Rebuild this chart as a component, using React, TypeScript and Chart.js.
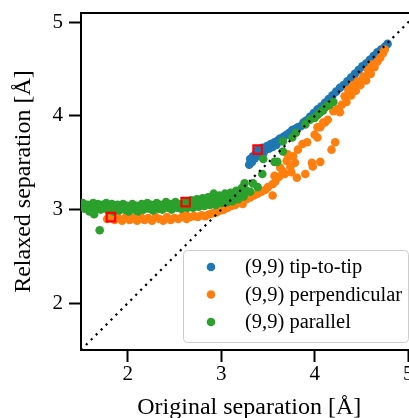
import { useEffect, useRef } from 'react';
import { Chart, registerables } from 'chart.js';

Chart.register(...registerables);

const FONT = "'Liberation Serif', 'Times New Roman', serif";

const xTicks = [2, 3, 4, 5];
const yTicks = [2, 3, 4, 5];
const axisRange = [1.5, 5.1];

const seriesLabels = ['(9,9) tip-to-tip', '(9,9) perpendicular', '(9,9) parallel'];
const seriesColors = ['#1f77b4', '#ff7f0e', '#2ca02c'];

const tipToTip: [number, number][] = [
  [3.30, 3.48], [3.31, 3.54], [3.33, 3.51], [3.34, 3.57], [3.36, 3.55], [3.37, 3.60], [3.39, 3.64],
  [3.40, 3.58], [3.42, 3.62], [3.44, 3.66], [3.45, 3.60], [3.47, 3.64], [3.49, 3.68], [3.51, 3.65],
  [3.53, 3.70], [3.55, 3.67], [3.57, 3.72], [3.59, 3.69], [3.61, 3.74], [3.63, 3.76], [3.65, 3.73],
  [3.67, 3.78], [3.70, 3.80], [3.73, 3.82], [3.76, 3.85], [3.79, 3.86], [3.82, 3.88], [3.85, 3.89],
  [3.88, 3.93], [3.91, 3.95], [3.95, 3.99], [3.99, 4.03], [4.03, 4.07], [4.07, 4.10], [4.11, 4.14],
  [4.15, 4.18], [4.19, 4.22], [4.23, 4.26], [4.27, 4.30], [4.31, 4.33], [4.35, 4.37], [4.39, 4.41],
  [4.43, 4.45], [4.47, 4.49], [4.51, 4.53], [4.55, 4.56], [4.59, 4.60], [4.63, 4.64], [4.67, 4.68],
  [4.71, 4.71], [4.75, 4.74], [4.78, 4.77],
];

const perpendicular: [number, number][] = [
  [1.78, 2.90], [1.82, 2.92], [1.86, 2.89], [1.90, 2.91], [1.94, 2.88], [1.98, 2.92], [2.02, 2.89],
  [2.06, 2.91], [2.10, 2.88], [2.14, 2.92], [2.18, 2.89], [2.22, 2.91], [2.26, 2.88], [2.30, 2.92],
  [2.34, 2.90], [2.38, 2.88], [2.42, 2.92], [2.46, 2.89], [2.50, 2.91], [2.54, 2.90], [2.58, 2.92],
  [2.62, 2.95], [2.63, 2.90], [2.67, 2.92], [2.71, 2.93], [2.75, 2.92], [2.79, 2.94], [2.83, 2.93],
  [2.87, 2.95], [2.91, 2.96], [2.95, 2.97], [2.99, 2.99], [3.03, 3.00], [3.07, 3.02], [3.11, 3.04],
  [3.15, 3.05], [3.19, 3.08], [3.23, 3.06], [3.27, 3.11], [3.31, 3.13], [3.35, 3.15], [3.39, 3.17],
  [3.43, 3.19], [3.47, 3.21], [3.50, 3.24], [3.55, 3.15], [3.55, 3.27], [3.58, 3.30], [3.62, 3.35],
  [3.57, 3.36], [3.63, 3.45], [3.66, 3.41], [3.71, 3.59], [3.74, 3.46], [3.77, 3.57], [3.81, 3.34],
  [3.82, 3.64], [3.87, 3.70], [3.90, 3.38], [3.92, 3.72], [3.97, 3.50], [3.98, 3.46], [4.06, 3.51],
  [4.18, 3.64], [4.22, 3.72], [3.70, 3.52], [3.79, 3.50], [3.68, 3.38], [3.75, 3.40], [4.03, 3.77],
  [4.00, 3.80], [4.06, 3.88], [4.11, 3.93],
  [4.03, 3.88], [4.09, 3.93], [4.14, 3.96], [4.20, 4.05], [4.24, 4.07], [4.27, 4.04], [4.29, 4.12],
  [4.32, 4.21], [4.34, 4.15], [4.36, 4.28], [4.39, 4.22], [4.41, 4.33], [4.44, 4.27], [4.46, 4.37],
  [4.49, 4.33], [4.52, 4.42], [4.55, 4.38], [4.57, 4.49], [4.60, 4.45], [4.61, 4.55], [4.64, 4.52],
  [4.67, 4.58], [4.70, 4.62], [4.73, 4.67], [4.75, 4.71],
];

const parallel: [number, number][] = [
  [1.50, 3.04], [1.52, 3.07], [1.54, 3.01], [1.57, 3.05], [1.59, 2.98], [1.61, 3.03], [1.63, 3.07],
  [1.64, 2.95], [1.66, 3.02], [1.68, 3.06], [1.70, 2.78], [1.71, 3.00], [1.73, 3.05], [1.75, 3.02],
  [1.77, 3.07], [1.79, 2.99], [1.81, 3.03], [1.83, 3.06], [1.85, 2.98], [1.87, 3.02], [1.89, 3.05],
  [1.91, 2.99], [1.93, 3.03], [1.95, 3.06], [1.97, 3.00], [1.99, 3.04], [2.01, 2.98], [2.03, 3.02],
  [2.05, 3.06], [2.07, 3.00], [2.09, 3.04], [2.11, 2.98], [2.13, 3.02], [2.15, 3.06], [2.17, 3.00],
  [2.19, 3.04], [2.21, 3.07], [2.23, 3.01], [2.25, 3.05], [2.27, 2.99], [2.29, 3.03], [2.31, 3.07],
  [2.33, 3.01], [2.35, 3.05], [2.37, 3.00], [2.39, 3.04], [2.41, 3.08], [2.43, 3.02], [2.45, 3.06],
  [2.47, 3.00], [2.49, 3.04], [2.51, 3.08], [2.53, 3.02], [2.55, 3.06], [2.57, 3.01], [2.59, 3.05],
  [2.62, 3.08], [2.64, 3.02], [2.66, 3.06], [2.68, 3.10], [2.70, 3.02], [2.72, 3.07], [2.74, 3.11],
  [2.76, 3.03], [2.78, 3.08], [2.80, 3.12], [2.82, 3.04], [2.84, 3.09], [2.86, 3.13], [2.88, 3.05],
  [2.90, 3.10], [2.92, 3.17], [2.94, 3.05], [2.96, 3.11], [2.98, 3.15], [3.00, 3.07], [3.02, 3.13],
  [3.04, 3.17], [3.06, 3.08], [3.08, 3.14], [3.10, 3.18], [3.12, 3.09], [3.14, 3.16], [3.16, 3.20],
  [3.18, 3.11], [3.20, 3.18], [3.22, 3.23], [3.24, 3.14], [3.25, 3.28], [3.27, 3.20], [3.31, 3.19],
  [3.34, 3.28], [3.39, 3.24], [3.44, 3.38], [3.45, 3.54], [3.57, 3.51], [3.60, 3.51], [3.66, 3.62],
  [3.66, 3.73], [3.76, 3.77], [3.80, 3.82], [3.90, 3.91], [3.95, 3.96], [4.00, 3.98], [4.03, 4.01],
  [4.06, 4.04], [4.09, 4.06], [4.11, 4.09], [4.14, 4.11], [4.16, 4.12], [4.20, 4.15],
];

const highlighted: [number, number][] = [[1.82, 2.92], [2.62, 3.08], [3.39, 3.64]];

const diagonal: [number, number][] = [[1.5, 1.5], [5.1, 5.1]];

const toPts = (arr: [number, number][]) => arr.map(([x, y]) => ({ x, y }));

const framePlugin = {
  id: 'frameAndLegend',
  afterDatasetsDraw(chart: any) {
    const { ctx, chartArea: a } = chart;
    ctx.save();
    ctx.strokeStyle = '#000';
    ctx.lineWidth = 2;
    ctx.beginPath();
    ctx.moveTo(a.left, a.top);
    ctx.lineTo(a.right, a.top);
    ctx.lineTo(a.right, a.bottom);
    ctx.stroke();

    // legend box (lower right)
    const w = 225;
    const h = 92;
    const right = a.right - 9.5;
    const bottom = a.bottom - 8;
    const left = right - w;
    const top = bottom - h;
    ctx.beginPath();
    ctx.roundRect(left + 0.5, top + 0.5, w, h, 4);
    ctx.fillStyle = 'rgba(255,255,255,0.8)';
    ctx.fill();
    ctx.strokeStyle = '#cccccc';
    ctx.lineWidth = 1;
    ctx.stroke();

    ctx.font = `20.5px ${FONT}`;
    ctx.textBaseline = 'middle';
    ctx.textAlign = 'left';
    seriesLabels.forEach((label, i) => {
      const cy = top + 17 + i * 27.5;
      ctx.beginPath();
      ctx.arc(left + 28, cy, 4.3, 0, Math.PI * 2);
      ctx.fillStyle = seriesColors[i];
      ctx.fill();
      ctx.fillStyle = '#000';
      ctx.fillText(label, left + 62, cy + 1);
    });
    ctx.restore();
  },
};

export default function App() {
  const ref = useRef<HTMLCanvasElement>(null);
  useEffect(() => {
    if (!ref.current) return;
    const pointDs = (label: string, data: [number, number][], color: string, order: number) => ({
      label,
      data: toPts(data),
      backgroundColor: color,
      borderWidth: 0,
      pointRadius: 4.3,
      pointHoverRadius: 4.3,
      order,
    });
    const chart = new Chart(ref.current, {
      type: 'scatter',
      data: {
        datasets: [
          {
            label: 'highlighted',
            data: toPts(highlighted),
            pointStyle: 'rect',
            pointRadius: 6,
            backgroundColor: 'rgba(0,0,0,0)',
            borderColor: '#ff0000',
            borderWidth: 2.2,
            order: 0,
          } as any,
          {
            label: 'y = x',
            data: toPts(diagonal),
            showLine: true,
            pointRadius: 0,
            borderColor: '#000',
            borderWidth: 2.2,
            borderDash: [2.2, 4.8],
            fill: false,
            order: 1,
          } as any,
          pointDs(seriesLabels[2], parallel, seriesColors[2], 2),
          pointDs(seriesLabels[1], perpendicular, seriesColors[1], 3),
          pointDs(seriesLabels[0], tipToTip, seriesColors[0], 4),
        ],
      },
      options: {
        animation: false,
        responsive: false,
        events: [],
        layout: { padding: { top: 13, right: 22.5, bottom: 0, left: 0 } },
        plugins: { legend: { display: false }, tooltip: { enabled: false } },
        scales: {
          x: {
            type: 'linear',
            min: axisRange[0],
            max: axisRange[1],
            afterBuildTicks: (s: any) => { s.ticks = xTicks.map((v) => ({ value: v })); },
            afterFit: (s: any) => { s.height = 68; s.paddingLeft = 0; s.paddingRight = 0; },
            grid: { display: true, drawOnChartArea: false, drawTicks: true, tickLength: 12, tickWidth: 2, tickColor: '#000' },
            border: { display: true, color: '#000', width: 2 },
            ticks: { color: '#000', font: { family: FONT, size: 21 }, padding: 0, maxRotation: 0 },
            title: {
              display: true,
              text: 'Original separation [Å]',
              color: '#000',
              font: { family: FONT, size: 24, lineHeight: 0.85 },
              padding: { top: 0, bottom: 0 },
            },
          },
          y: {
            type: 'linear',
            min: axisRange[0],
            max: axisRange[1],
            afterBuildTicks: (s: any) => { s.ticks = yTicks.map((v) => ({ value: v })); },
            afterFit: (s: any) => { s.width = 81; s.paddingTop = 0; s.paddingBottom = 0; },
            grid: { display: true, drawOnChartArea: false, drawTicks: true, tickLength: 12, tickWidth: 2, tickColor: '#000' },
            border: { display: true, color: '#000', width: 2 },
            ticks: { color: '#000', font: { family: FONT, size: 21 }, padding: 6 },
            title: {
              display: true,
              text: 'Relaxed separation [Å]',
              color: '#000',
              font: { family: FONT, size: 24, lineHeight: 1 },
              padding: { top: 12, bottom: 0 },
            },
          },
        },
      },
      plugins: [framePlugin],
    });
    return () => chart.destroy();
  }, []);
  return (
    <div style={{ position: 'absolute', left: 0, top: 0, width: 409, height: 418, overflow: 'hidden', background: '#fff' }}>
      <canvas ref={ref} width={440} height={418} style={{ width: 440, height: 418, display: 'block' }} />
    </div>
  );
}
